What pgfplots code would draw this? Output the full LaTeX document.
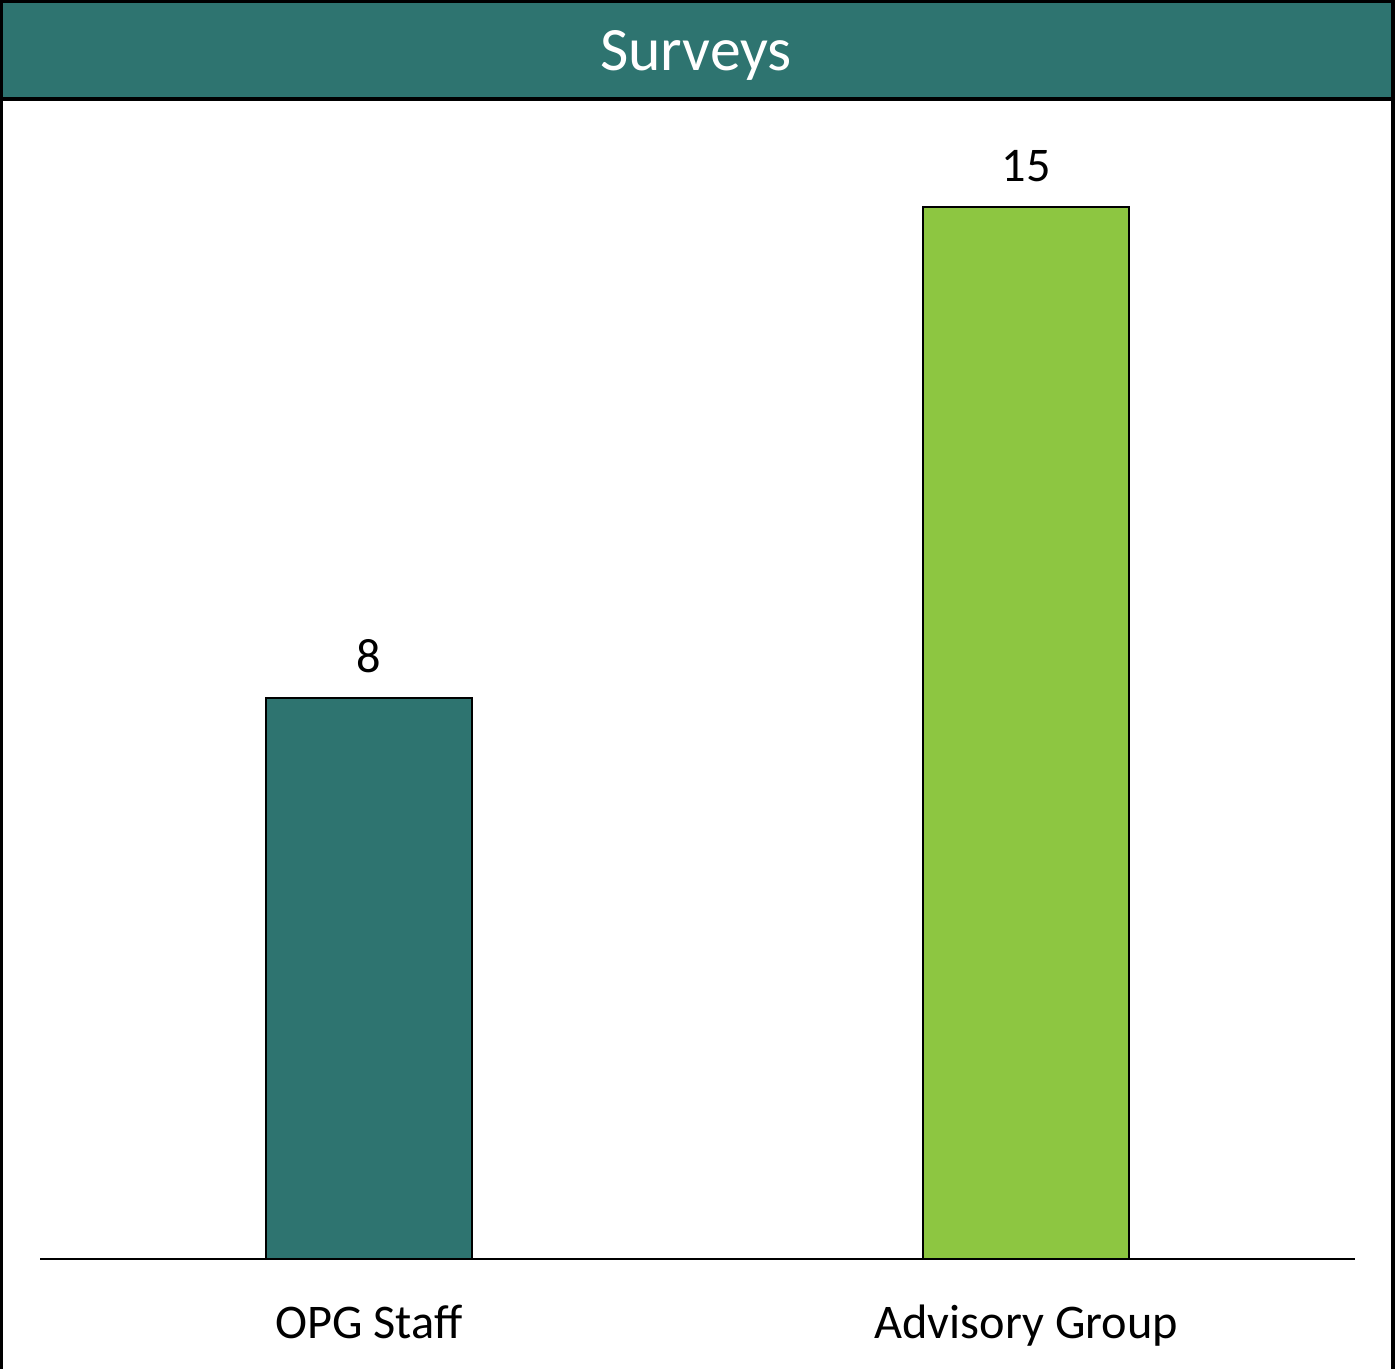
\documentclass[border=0pt]{standalone}
\usepackage{pgfplots}
\pgfplotsset{compat=1.18}
\usepackage{fontspec}
\setmainfont{Carlito}
\definecolor{teal1}{HTML}{2E7470}
\definecolor{green1}{HTML}{8DC641}
\begin{document}
\begin{tikzpicture}
\begin{scope}[x=0.3pt,y=-0.3pt]
\useasboundingbox (0,0) rectangle (1398,1369);
\fill[teal1] (0,0) rectangle (1393,99);
\draw[line width=1.2pt] (1,1369) -- (1,1) -- (1393,1) -- (1393,1369);
\draw[line width=1.0pt] (1,99) -- (1393,99);
\node[text=white,font=\fontsize{18.5}{22}\selectfont] at (696,55) {Surveys};
\end{scope}
\begin{axis}[
  at={(12pt,-377.7pt)}, anchor=south west,
  scale only axis, width=394.5pt, height=336.5pt,
  xmin=-0.5, xmax=1.5, ymin=0, ymax=16,
  axis x line=bottom, axis y line=none,
  axis line style={line width=0.75pt,-},
  xtick={0,1}, xticklabels={OPG Staff,Advisory Group},
  xtick style={draw=none},
  ytick=\empty,
  /pgf/number format/assume math mode=true,
  ticklabel style={font=\fontsize{14.5}{17}\selectfont},
  xticklabel style={yshift=-6pt},
  ybar, bar width=61.8pt, bar shift=0pt,
  nodes near coords,
  every node near coord/.append style={font=\fontsize{14.5}{17}\selectfont, yshift=4pt},
  clip=false,
]
\addplot[fill=teal1, draw=black, line width=0.6pt] coordinates {(0,8)};
\addplot[fill=green1, draw=black, line width=0.6pt] coordinates {(1,15)};
\end{axis}
\end{tikzpicture}
\end{document}
